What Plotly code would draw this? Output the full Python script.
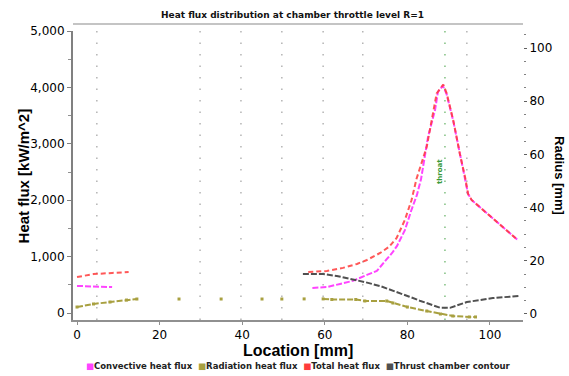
import plotly.graph_objects as go

# Heat flux series [kW/m^2] along the chamber axis [mm]; None splits segments
total_x = [0, 4, 8.5, 12.5, None, 56, 60.5, 64.4, 67.8, 70.2, 73.4, 75.5, 77.4,
           79.4, 81, 82.2, 84.7, 87.1, 88.7, 89.5, 91.1, 92.7, 94, 94.7, 95.6,
           99.2, 104, 106.8]
total_y = [638, 690, 710, 727, None, 727, 745, 800, 870, 940, 1064, 1170, 1330,
           1650, 2000, 2375, 2950, 3895, 4050, 3900, 3420, 2825, 2400, 2110, 2000,
           1770, 1470, 1290]

conv_x = [0, 8.5, None, 57, 60.5, 63.7, 66.8, 70.2, 72.6, 75, 76.3, 77.5, 78.5,
          79.4, 81, 82.3, 83.3, 85, 86.7, 87.4, 88.6, 89.5, 91.1, 92.7, 94, 94.7,
          95.6, 99.2, 104, 106.8]
conv_y = [480, 460, None, 445, 460, 515, 570, 675, 745, 955, 1064, 1190, 1350,
          1470, 1830, 2090, 2370, 3120, 3600, 3920, 4030, 3880, 3410, 2820, 2400,
          2110, 2000, 1770, 1470, 1290]

rad_x = [0, 4, 8, 12, 14.5, None, 24.7, None, 34.9, None, 44.8, None, 49.6, None,
         55, None, 59.6, 61.7, 67.5, 69.7, 75, 76.5, 80, 84.7, 88, 91, 95, 96.5]
rad_y = [106, 160, 195, 230, 248, None, 248, None, 248, None, 248, None, 248, None,
         250, None, 250, 240, 240, 213, 213, 177, 106, 35, -18, -53, -70, -70]

# Thrust chamber contour radius [mm]
contour_x = [54.7, 59.6, 62.9, 66, 69.7, 73.4, 77.5, 80.5, 83, 85.5, 88, 90.3,
             94.4, 100.7, 107.3]
contour_y = [15.0, 15.0, 14.3, 13.3, 12.0, 10.5, 8.3, 6.5, 5.0, 3.6, 2.3, 2.3,
             4.5, 6.0, 6.8]

series_names = ["Convective heat flux", "Radiation heat flux", "Total heat flux",
                "Thrust chamber contour"]
series_colors = ["#ff44ff", "#a8a040", "#ff3b3b", "#505050"]

x_ticks = [0, 20, 40, 60, 80, 100]
left_ticks = [0, 1000, 2000, 3000, 4000, 5000]
right_ticks = [0, 20, 40, 60, 80, 100]
grid_x = [4.8, 29.8, 39.7, 49.6, 59.6, 69.2, 94.4]
throat_x = 89.1

FONT = "DejaVu Sans"

fig = go.Figure()

fig.add_trace(go.Scatter(x=contour_x, y=contour_y, yaxis="y2", mode="lines",
                         name=series_names[3],
                         line=dict(color=series_colors[3], width=2, dash="6px,2px")))
fig.add_trace(go.Scatter(x=rad_x, y=rad_y, mode="lines+markers", name=series_names[1],
                         line=dict(color=series_colors[1], width=2, dash="6px,2px"),
                         marker=dict(symbol="square", size=3, color=series_colors[1])))
fig.add_trace(go.Scatter(x=conv_x, y=conv_y, mode="lines", name=series_names[0],
                         line=dict(color=series_colors[0], width=2, dash="6px,2px")))
fig.add_trace(go.Scatter(x=total_x, y=total_y, mode="lines", name=series_names[2],
                         line=dict(color=series_colors[2], width=2, dash="5px,3px"),
                         opacity=0.85))

# sparse dotted vertical guides
shapes = []
for gx in grid_x:
    shapes.append(dict(type="line", xref="x", yref="paper", x0=gx, x1=gx, y0=1, y1=0,
                       line=dict(color="#b4b4b4", width=1.5, dash="1.5px,10px"),
                       layer="below"))
shapes.append(dict(type="line", xref="x", yref="paper", x0=throat_x, x1=throat_x,
                   y0=1, y1=0, line=dict(color="#7fbf7f", width=1.5, dash="1.5px,10px"),
                   layer="below"))
# top rule above the plot area
shapes.append(dict(type="line", xref="paper", yref="paper", x0=0, x1=1,
                   y0=1.024, y1=1.024, line=dict(color="#c4c4c4", width=2)))

legend_text = "  ".join(
    f'<span style="color:{c}">■</span>{n}' for n, c in zip(series_names, series_colors)
)

annotations = [
    dict(text="<b>Heat flux distribution at chamber throttle level R=1</b>",
         xref="paper", yref="paper", x=0.488, y=1.055, showarrow=False,
         font=dict(family=FONT, size=9, color="#111"), xanchor="center",
         yanchor="middle"),
    dict(text="<b>Location [mm]</b>", xref="paper", yref="paper", x=0.5, y=-0.104,
         showarrow=False, font=dict(family="Liberation Sans", size=16, color="#000"),
         xanchor="center", yanchor="middle"),
    dict(text="<b>Heat flux [kW/m^2]</b>", xref="paper", yref="paper", x=-0.109, y=0.5,
         textangle=-90, showarrow=False,
         font=dict(family="Liberation Sans", size=15, color="#000"),
         xanchor="center", yanchor="middle"),
    dict(text="<b>Radius [mm]</b>", xref="paper", yref="paper", x=1.081, y=0.5,
         textangle=90, showarrow=False,
         font=dict(family="Liberation Sans", size=13, color="#000"),
         xanchor="center", yanchor="middle"),
    dict(text="<b>throat</b>", x=throat_x - 1.2, y=2500, xref="x", yref="y",
         textangle=-90, showarrow=False,
         font=dict(family=FONT, size=7, color="#3a9a3a"),
         xanchor="center", yanchor="middle"),
    dict(text=f"<b>{legend_text}</b>", xref="paper", yref="paper", x=0.5, y=-0.159,
         showarrow=False, font=dict(family=FONT, size=8.5, color="#222"),
         xanchor="center", yanchor="middle"),
]

fig.update_layout(
    width=569, height=376,
    margin=dict(l=73, r=46, t=31, b=56),
    paper_bgcolor="white", plot_bgcolor="white",
    showlegend=False,
    shapes=shapes, annotations=annotations,
    xaxis=dict(range=[-0.97, 108], tickvals=x_ticks, showgrid=False, zeroline=False,
               showline=True, linecolor="#909090", linewidth=1.5,
               ticks="outside", ticklen=3, tickcolor="#909090",
               tickfont=dict(family=FONT, size=12, color="#000")),
    yaxis=dict(range=[-124, 5000], tickvals=left_ticks, tickformat=",",
               showgrid=False, zeroline=False, showline=True, linecolor="#808080",
               linewidth=2, ticks="outside", ticklen=4, tickcolor="#808080",
               minor=dict(dtick=500, ticks="outside", ticklen=3, tickcolor="#909090"),
               tickfont=dict(family=FONT, size=12, color="#000")),
    yaxis2=dict(range=[-2.26, 106.4], tickvals=right_ticks, overlaying="y",
                side="right", showgrid=False, zeroline=False, showline=False,
                ticks="outside", ticklen=3, tickcolor="#606060",
                minor=dict(dtick=5, ticks="outside", ticklen=2, tickcolor="#808080"),
                tickfont=dict(family=FONT, size=12, color="#000")),
)

fig.write_html("out.html")
